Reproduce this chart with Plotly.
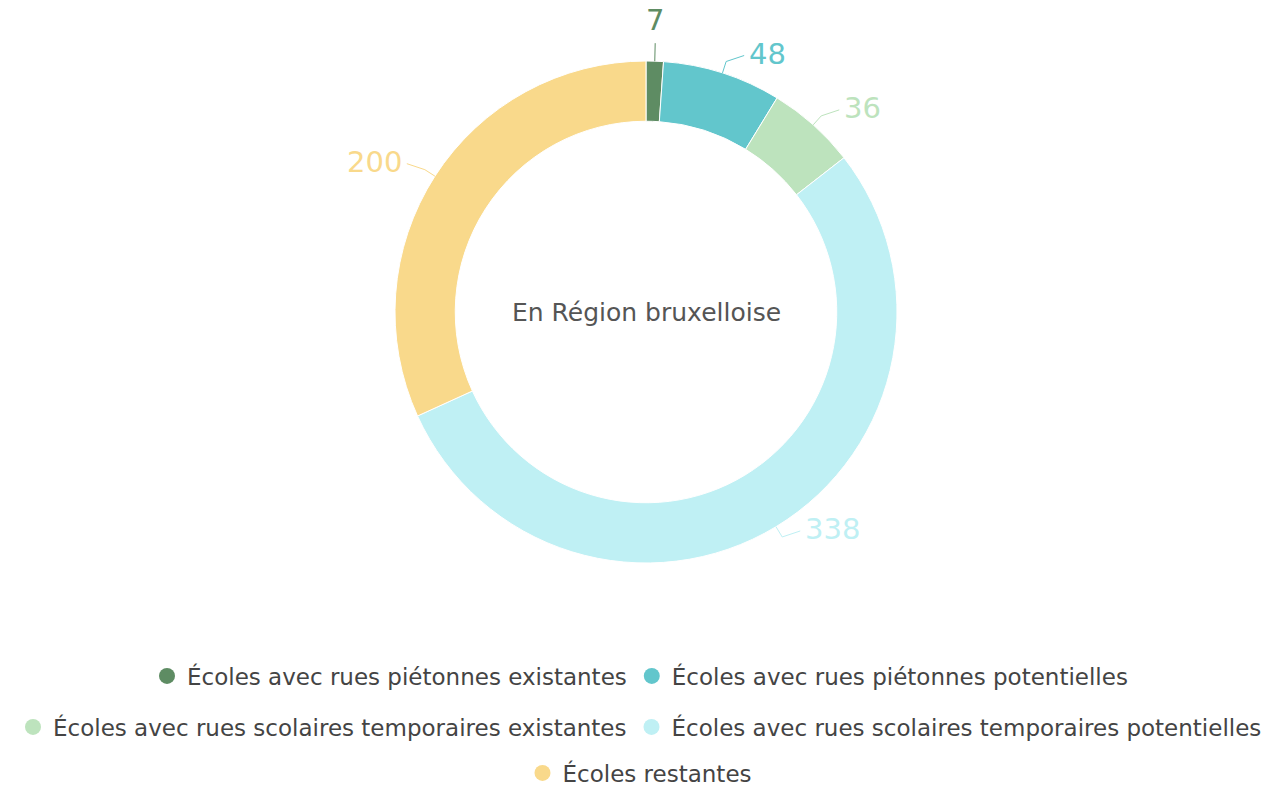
import math
import plotly.graph_objects as go

# ---- data ----
categories = [
    "Écoles avec rues piétonnes existantes",
    "Écoles avec rues piétonnes potentielles",
    "Écoles avec rues scolaires temporaires existantes",
    "Écoles avec rues scolaires temporaires potentielles",
    "Écoles restantes",
]
values = [7, 48, 36, 338, 200]
colors = ["#5e8c63", "#62c6cc", "#bde3bd", "#bff0f4", "#f9d98b"]
center_title = "En Région bruxelloise"

W, H = 1271, 787
CX, CY, R = 646, 312, 251  # pixel geometry of the donut
FONT = "DejaVu Sans"

fig = go.Figure()
fig.add_trace(go.Pie(
    labels=categories, values=values, sort=False, direction="clockwise",
    rotation=0, hole=0.76, textinfo="none", hoverinfo="label+value",
    marker=dict(colors=colors, line=dict(color="white", width=1)),
    showlegend=False,
    domain=dict(x=[(CX - 400) / W, (CX + 400) / W],
                y=[(H - CY - R) / H, (H - CY + R) / H]),
))

def px2paper(x, y):
    return x / W, 1 - y / H

shapes, annotations = [], []
total = sum(values)
cum = 0
for v, c in zip(values, colors):
    mid = (cum + v / 2) / total * 2 * math.pi
    cum += v
    s, co = math.sin(mid), math.cos(mid)
    ex, ey = CX + R * s, CY - R * co
    p1x, p1y = CX + (R + 12) * s, CY - (R + 12) * co
    if abs(s) < 0.2:
        path_pts = [(ex, ey), (p1x, p1y - 6)]
        tx, ty = px2paper(p1x, p1y - 10)
        xa, ya = "center", "bottom"
    else:
        sign = 1 if s > 0 else -1
        p2x, p2y = p1x + 18 * sign, p1y - 6
        path_pts = [(ex, ey), (p1x, p1y), (p2x, p2y)]
        tx, ty = px2paper(p2x + 3 * sign, p2y - 2)
        xa, ya = ("left" if sign > 0 else "right"), "middle"
    pts = [px2paper(x, y) for x, y in path_pts]
    path = "M " + " L ".join(f"{x:.5f} {y:.5f}" for x, y in pts)
    shapes.append(dict(type="path", path=path, xref="paper", yref="paper",
                       line=dict(color=c, width=1)))
    annotations.append(dict(x=tx, y=ty, xref="paper", yref="paper", text=str(v),
                            showarrow=False, xanchor=xa, yanchor=ya,
                            font=dict(family=FONT, size=29, color=c)))

annotations.append(dict(x=CX / W, y=1 - CY / H, xref="paper", yref="paper",
                        text=center_title, showarrow=False,
                        font=dict(family=FONT, size=25, color="#555555")))

# legend via dummy traces split across three rows
legend_rows = ["legend", "legend", "legend2", "legend2", "legend3"]
for name, c, lg in zip(categories, colors, legend_rows):
    fig.add_trace(go.Scatter(x=[None], y=[None], mode="markers", name=name,
                             marker=dict(color=c, size=16, symbol="circle"),
                             legend=lg, hoverinfo="skip"))

leg_common = dict(orientation="h", xanchor="center", x=640 / W, yanchor="middle",
                  font=dict(family=FONT, size=23, color="#444444"),
                  bgcolor="rgba(0,0,0,0)")
fig.update_layout(
    width=W, height=H, margin=dict(l=0, r=0, t=0, b=0, autoexpand=False),
    paper_bgcolor="white", plot_bgcolor="white",
    xaxis=dict(visible=False), yaxis=dict(visible=False),
    shapes=shapes, annotations=annotations,
    legend=dict(leg_common, y=1 - 676 / H),
    legend2=dict(leg_common, y=1 - 727 / H),
    legend3=dict(leg_common, y=1 - 773 / H),
)

fig.write_html("out.html")
